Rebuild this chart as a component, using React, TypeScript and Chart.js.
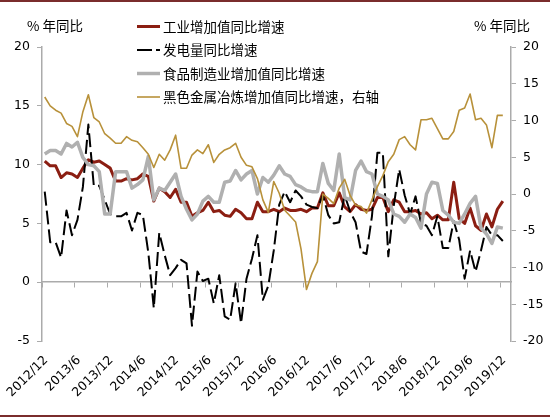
import React, { useEffect, useRef } from "react";
import { Chart, registerables } from "chart.js";

Chart.register(...registerables);

const months = [
  "2012/12",
  "2013/1", "2013/2", "2013/3", "2013/4", "2013/5", "2013/6", "2013/7", "2013/8", "2013/9", "2013/10", "2013/11", "2013/12",
  "2014/1", "2014/2", "2014/3", "2014/4", "2014/5", "2014/6", "2014/7", "2014/8", "2014/9", "2014/10", "2014/11", "2014/12",
  "2015/1", "2015/2", "2015/3", "2015/4", "2015/5", "2015/6", "2015/7", "2015/8", "2015/9", "2015/10", "2015/11", "2015/12",
  "2016/1", "2016/2", "2016/3", "2016/4", "2016/5", "2016/6", "2016/7", "2016/8", "2016/9", "2016/10", "2016/11", "2016/12",
  "2017/1", "2017/2", "2017/3", "2017/4", "2017/5", "2017/6", "2017/7", "2017/8", "2017/9", "2017/10", "2017/11", "2017/12",
  "2018/1", "2018/2", "2018/3", "2018/4", "2018/5", "2018/6", "2018/7", "2018/8", "2018/9", "2018/10", "2018/11", "2018/12",
  "2019/1", "2019/2", "2019/3", "2019/4", "2019/5", "2019/6", "2019/7", "2019/8", "2019/9", "2019/10", "2019/11", "2019/12",
];

// 工业增加值同比增速 (left axis)
const industryVA = [
  10.3, 9.9, 9.9, 8.9, 9.3, 9.2, 8.9, 9.7, 10.4, 10.2, 10.3, 10.0, 9.7,
  8.6, 8.6, 8.8, 8.7, 8.8, 9.2, 9.0, 6.9, 8.0, 7.7, 7.2, 7.9,
  6.8, 6.8, 5.6, 5.9, 6.1, 6.8, 6.0, 6.1, 5.7, 5.6, 6.2, 5.9,
  5.4, 5.4, 6.8, 6.0, 6.0, 6.2, 6.0, 6.3, 6.1, 6.1, 6.2, 6.0,
  6.3, 6.3, 7.6, 6.5, 6.5, 7.6, 6.4, 6.0, 6.6, 6.2, 6.1, 6.2,
  7.2, 7.2, 6.0, 7.0, 6.8, 6.0, 6.0, 6.1, 5.8, 5.9, 5.4, 5.7,
  5.3, 5.3, 8.5, 5.4, 5.0, 6.3, 4.8, 4.4, 5.8, 4.7, 6.2, 6.9,
];

// 发电量同比增速 (left axis)
const powerGen = [
  7.7, 3.4, 3.4, 2.1, 6.1, 4.0, 5.3, 8.1, 13.4, 8.2, 8.2, 7.0, 5.8,
  5.6, 5.6, 5.9, 4.4, 5.9, 5.7, 2.5, -2.2, 4.2, 2.3, 0.6, 1.2,
  1.9, 1.6, -3.7, 0.9, 0.1, 0.3, -1.8, 0.6, -2.9, -3.2, -0.1, -3.5,
  0.3, 2.0, 4.0, -1.5, -0.3, 2.7, 6.6, 7.7, 6.8, 7.8, 7.3, 6.6,
  6.4, 6.3, 7.4, 5.7, 5.0, 5.1, 7.4, 6.0, 5.1, 2.6, 2.4, 5.6,
  11.0, 11.0, 2.2, 6.5, 9.6, 7.4, 5.8, 7.3, 5.0, 4.8, 4.0, 5.6,
  2.9, 2.9, 5.2, 3.6, 0.3, 2.7, 0.9, 2.7, 4.7, 4.0, 4.0, 3.5,
];

// 食品制造业增加值同比增速 (left axis)
const foodVA = [
  10.9, 11.2, 11.2, 10.9, 11.8, 11.5, 11.9, 10.6, 10.0, 9.9, 9.4, 5.8, 5.8,
  9.4, 9.4, 9.4, 8.0, 8.3, 8.7, 10.7, 7.0, 8.0, 7.8, 8.5, 9.2,
  7.3, 6.2, 5.3, 5.8, 6.9, 7.3, 6.8, 6.8, 8.5, 8.6, 9.5, 8.7,
  9.2, 9.5, 7.5, 8.9, 8.5, 9.1, 9.9, 9.2, 9.0, 8.3, 8.1, 7.8,
  7.7, 7.7, 10.1, 8.4, 7.8, 10.9, 7.2, 7.0, 9.5, 10.3, 9.4, 9.2,
  7.5, 7.3, 7.0, 5.8, 5.6, 5.1, 5.8, 5.5, 4.6, 7.5, 8.5, 8.4,
  6.1, 5.7, 5.1, 5.0, 5.8, 6.7, 7.3, 4.6, 4.1, 3.3, 4.7, 4.6,
];

// 黑色金属冶炼增加值同比增速 (right axis)
const steelVA = [
  13.2, 12.0, 11.4, 11.0, 9.6, 9.2, 7.8, 11.2, 13.5, 10.4, 9.8, 8.2, 7.6,
  6.9, 6.9, 7.8, 7.3, 7.1, 6.3, 5.4, 3.6, 5.4, 4.6, 6.0, 8.0,
  3.5, 3.5, 5.3, 6.0, 5.5, 6.7, 4.3, 5.4, 6.0, 6.3, 6.9, 5.0,
  3.9, 3.7, 2.1, -0.8, -2.5, 1.7, 0.1, -2.2, -3.0, -3.8, -7.5, -13.0,
  -10.8, -9.2, 0.0, -0.6, -1.3, 0.8, 2.0, -0.2, -1.5, -1.7, -2.6, -0.8,
  1.0, 2.5, 4.4, 5.4, 7.4, 7.8, 6.7, 6.0, 10.1, 10.1, 10.3, 8.9,
  7.5, 7.5, 8.5, 11.4, 11.7, 13.6, 10.1, 10.3, 9.4, 6.3, 10.7, 10.7,
];

const seriesNames = [
  "工业增加值同比增速",
  "发电量同比增速",
  "食品制造业增加值同比增速",
  "黑色金属冶炼增加值同比增速，右轴",
];
const unitLabel = "% 年同比";

const tickMonthIndexes = [0, 6, 12, 18, 24, 30, 36, 42, 48, 54, 60, 66, 72, 78, 84];
const categoryCount = 86;

const RED = "#8B1E12";
const GRAY = "#B0B0B0";
const GOLD = "#B8913A";
const BLACK = "#000000";
const AXIS = "#ABABAB";
const FRAME = "#7A2C2C";

const toPoints = (arr: number[]) => arr.map((v, i) => ({ x: i + 0.5, y: v }));

const tickFont = { family: '"DejaVu Sans", sans-serif', size: 12.5 };

const overlay = {
  id: "overlay",
  afterDraw(chart: any) {
    const ctx = chart.ctx as CanvasRenderingContext2D;
    ctx.save();
    ctx.fillStyle = FRAME;
    ctx.fillRect(0, 0, chart.width, 2);
    ctx.fillRect(0, 415, chart.width, 2);

    ctx.fillStyle = "#000";
    ctx.textBaseline = "middle";
    ctx.textAlign = "left";
    ctx.font = '13.5px "Noto Sans CJK SC"';
    ctx.fillText(unitLabel, 27, 26);
    ctx.fillText(unitLabel, 474, 26);

    const rows = [26.5, 50, 73.5, 97];
    chart.data.datasets.forEach((ds: any, k: number) => {
      const y = rows[k];
      ctx.save();
      ctx.strokeStyle = ds.borderColor;
      ctx.lineWidth = ds.borderWidth;
      ctx.setLineDash(ds.borderDash ? [15, 4] : []);
      ctx.beginPath();
      ctx.moveTo(137, y);
      ctx.lineTo(160, y);
      ctx.stroke();
      ctx.restore();
      ctx.fillStyle = "#000";
      ctx.font = '13.5px "Noto Sans CJK SC"';
      ctx.fillText(ds.label, 163, y);
    });
    ctx.restore();
  },
};

export default function App() {
  const ref = useRef<HTMLCanvasElement | null>(null);

  useEffect(() => {
    if (!ref.current) return;
    const setTicks = (s: any) => {
      s.ticks = tickMonthIndexes.map((v) => ({ value: v }));
    };
    const chart = new Chart(ref.current, {
      type: "line",
      data: {
        datasets: [
          { label: seriesNames[0], data: toPoints(industryVA), borderColor: RED, borderWidth: 3, yAxisID: "y", xAxisID: "x", order: 4 },
          { label: seriesNames[1], data: toPoints(powerGen), borderColor: BLACK, borderWidth: 2, borderDash: [14, 5], yAxisID: "y", xAxisID: "x", order: 3 },
          { label: seriesNames[2], data: toPoints(foodVA), borderColor: GRAY, borderWidth: 3.5, yAxisID: "y", xAxisID: "x", order: 2 },
          { label: seriesNames[3], data: toPoints(steelVA), borderColor: GOLD, borderWidth: 1.6, yAxisID: "y2", xAxisID: "x", order: 1 },
        ] as any,
      },
      options: {
        animation: false,
        responsive: false,
        layout: { padding: { top: 47, left: 0, right: 0, bottom: 0 } },
        elements: {
          point: { radius: 0 },
          line: { tension: 0, borderJoinStyle: "round", fill: false },
        },
        plugins: { legend: { display: false }, tooltip: { enabled: false } },
        scales: {
          x: {
            type: "linear",
            position: "bottom",
            min: 0,
            max: categoryCount,
            afterBuildTicks: setTicks,
            afterFit: (s: any) => {
              s.height = 78;
              s.paddingLeft = 0;
              s.paddingRight = 0;
            },
            grid: { display: false, drawTicks: false },
            border: { display: false },
            ticks: {
              autoSkip: false,
              minRotation: 45,
              maxRotation: 45,
              padding: 12,
              labelOffset: 4,
              color: "#000",
              font: tickFont,
              callback: (v: any) => months[v as number],
            },
          },
          x0: {
            type: "linear",
            position: { y: 0 } as any,
            min: 0,
            max: categoryCount,
            afterBuildTicks: setTicks,
            afterFit: (s: any) => {
              s.paddingLeft = 0;
              s.paddingRight = 0;
            },
            grid: { display: true, drawOnChartArea: false, drawTicks: true, tickLength: 5, color: AXIS, lineWidth: 1 },
            border: { display: true, color: AXIS, width: 1.5 },
            ticks: { display: false },
          },
          y: {
            type: "linear",
            position: "left",
            min: -5,
            max: 20,
            afterFit: (s: any) => { s.width = 42; },
            ticks: { stepSize: 5, padding: 7, color: "#000", font: tickFont },
            grid: { drawOnChartArea: false, drawTicks: true, tickLength: 5, color: AXIS },
            border: { color: AXIS, width: 1.5 },
          },
          y2: {
            type: "linear",
            position: "right",
            min: -20,
            max: 20,
            afterFit: (s: any) => { s.width = 39; },
            ticks: { stepSize: 5, padding: 7, color: "#000", font: tickFont },
            grid: { drawOnChartArea: false, drawTicks: true, tickLength: 5, color: AXIS },
            border: { color: AXIS, width: 1.5 },
          },
        },
      } as any,
      plugins: [overlay],
    });
    return () => chart.destroy();
  }, []);

  return (
    <div style={{ position: "absolute", left: 0, top: 0, width: 550, height: 419, background: "#fff" }}>
      <canvas ref={ref} width={550} height={419} style={{ display: "block" }} />
    </div>
  );
}
